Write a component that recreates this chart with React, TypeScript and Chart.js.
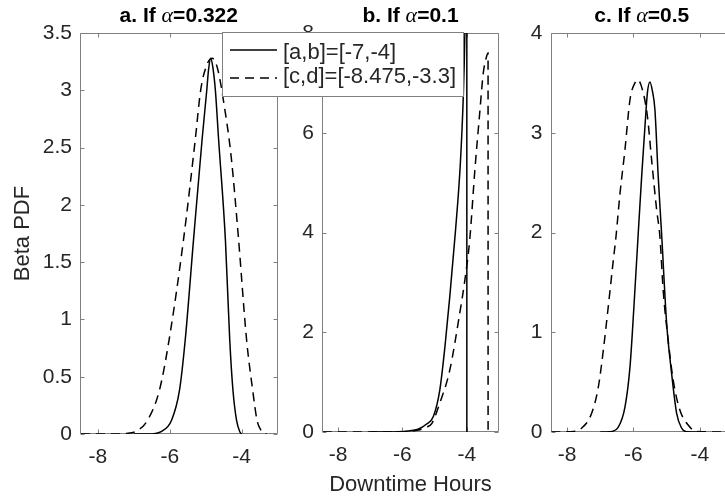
import React, { useEffect, useRef } from 'react';
import { Chart, registerables } from 'chart.js';

Chart.register(...registerables);

// ---------------- data ----------------
const X_MIN = -8.5;
const X_MAX = -3;
const xTickValues = [-8, -6, -4];

const yTicksA = [0, 0.5, 1, 1.5, 2, 2.5, 3, 3.5];
const yTicksB = [0, 2, 4, 6, 8];
const yTicksC = [0, 1, 2, 3, 4];

const legendLabels = ['[a,b]=[-7,-4]', '[c,d]=[-8.475,-3.3]'];
const titleA = ['a. If ', 'α', '=0.322'];
const titleB = ['b. If ', 'α', '=0.1'];
const titleC = ['c. If ', 'α', '=0.5'];
const xAxisTitle = 'Downtime Hours';
const yAxisTitle = 'Beta PDF';

// panel a
const aSolidX = [-7.0, -6.6, -6.4, -6.24, -5.95, -5.73, -5.57, -5.34, -5.1, -4.97, -4.92, -4.86, -4.8, -4.73, -4.64, -4.45, -4.33, -4.24, -4.14, -4.05, -4.0];
const aSolidY = [0, 0, 0.005, 0.02, 0.12, 0.38, 0.82, 1.69, 2.57, 3.0, 3.18, 3.28, 3.2, 3.0, 2.57, 1.69, 0.82, 0.38, 0.12, 0.02, 0];
const aDashX = [-8.475, -7.6, -7.2, -6.9, -6.62, -6.29, -6.02, -5.62, -5.29, -5.14, -4.97, -4.82, -4.67, -4.48, -4.29, -4.09, -3.86, -3.69, -3.57, -3.49, -3.4, -3.3];
const aDashY = [0, 0, 0.005, 0.03, 0.12, 0.38, 0.82, 1.69, 2.57, 3.0, 3.22, 3.28, 3.19, 2.86, 2.42, 1.72, 0.82, 0.38, 0.12, 0.05, 0.01, 0];

// panel b
const bSolidX = [-7.0, -6.3, -6.0, -5.5, -5.25, -5.04, -4.84, -4.68, -4.53, -4.35, -4.2, -4.11, -4.06, -4.02, -4.0, -3.999];
const bSolidY = [0, 0, 0.01, 0.06, 0.16, 0.31, 0.84, 1.71, 2.71, 4.05, 5.4, 6.72, 8.0, 10, 12, 0];
const bDashX = [-8.475, -6.5, -6.0, -5.5, -5.25, -5.09, -4.84, -4.53, -4.22, -4.06, -3.91, -3.75, -3.6, -3.49, -3.39, -3.34, -3.339];
const bDashY = [0, 0, 0.005, 0.04, 0.1, 0.17, 0.58, 1.24, 2.38, 3.05, 3.85, 5.25, 6.39, 7.19, 7.52, 7.6, 0];

// panel c
const cSolidX = [-7.0, -6.707, -6.457, -6.256, -6.105, -5.985, -5.856, -5.753, -5.654, -5.58, -5.504, -5.43, -5.353, -5.254, -5.152, -5.0, -4.851, -4.7, -4.55, -4.4, -4.0];
const cSolidY = [0, 0.003, 0.05, 0.25, 0.65, 1.26, 1.99, 2.56, 3.06, 3.4, 3.51, 3.42, 3.23, 2.56, 1.99, 1.09, 0.59, 0.19, 0.04, 0.003, 0];
const cDashX = [-8.475, -7.91, -7.558, -7.257, -7.059, -6.908, -6.758, -6.608, -6.526, -6.406, -6.256, -6.105, -5.955, -5.87, -5.774, -5.585, -5.453, -5.302, -5.203, -5.104, -4.953, -4.803, -4.601, -4.352, -4.1, -3.3];
const cDashY = [0, 0.003, 0.04, 0.19, 0.45, 0.82, 1.26, 1.72, 1.96, 2.39, 2.83, 3.33, 3.5, 3.53, 3.48, 3.18, 2.73, 2.23, 1.96, 1.42, 0.92, 0.52, 0.22, 0.07, 0.005, 0];

// ---------------- style ----------------
const SANS = '"Liberation Sans", Arial, Helvetica, sans-serif';
const AXIS_COLOR = '#808080';
const TEXT_COLOR = '#262626';
const DASH = [9, 6];
const TICK_LEN = 4;

const pts = (xs: number[], ys: number[]) => xs.map((x, i) => ({ x, y: ys[i] }));

const boxPlugin = {
  id: 'matBox',
  beforeDatasetsDraw(chart: any) {
    const { ctx, chartArea, scales } = chart;
    const l = Math.round(chartArea.left) + 0.5;
    const r = Math.round(chartArea.right) - 0.5;
    const t = Math.round(chartArea.top) + 0.5;
    const b = Math.round(chartArea.bottom) - 0.5;
    ctx.save();
    ctx.strokeStyle = AXIS_COLOR;
    ctx.lineWidth = 1;
    ctx.beginPath();
    ctx.rect(l, t, r - l, b - t);
    scales.x.ticks.forEach((tk: any) => {
      const px = Math.round(scales.x.getPixelForValue(tk.value)) + 0.5;
      ctx.moveTo(px, b);
      ctx.lineTo(px, b - TICK_LEN);
      ctx.moveTo(px, t);
      ctx.lineTo(px, t + TICK_LEN);
    });
    scales.y.ticks.forEach((tk: any) => {
      const py = Math.round(scales.y.getPixelForValue(tk.value)) + 0.5;
      ctx.moveTo(l, py);
      ctx.lineTo(l + TICK_LEN, py);
      ctx.moveTo(r, py);
      ctx.lineTo(r - TICK_LEN, py);
    });
    ctx.stroke();
    ctx.restore();
  },
};

const titlePlugin = {
  id: 'matTitle',
  afterDraw(chart: any, _args: any, opts: any) {
    if (!opts || !opts.parts) return;
    const { ctx, chartArea } = chart;
    const parts: string[] = opts.parts;
    const fonts = [`bold 21px ${SANS}`, `italic 22px "Liberation Serif", "Times New Roman", serif`, `bold 21px ${SANS}`];
    ctx.save();
    const widths = parts.map((p, i) => {
      ctx.font = fonts[i];
      return ctx.measureText(p).width;
    });
    const total = widths.reduce((s, w) => s + w, 0);
    let x = (chartArea.left + chartArea.right) / 2 - total / 2;
    ctx.fillStyle = '#000';
    ctx.textBaseline = 'alphabetic';
    ctx.textAlign = 'left';
    parts.forEach((p, i) => {
      ctx.font = fonts[i];
      ctx.fillText(p, x, opts.baseline);
      x += widths[i];
    });
    ctx.restore();
  },
};

const legendPlugin = {
  id: 'matLegend',
  afterDraw(chart: any, _args: any, opts: any) {
    if (!opts || !opts.show) return;
    const { ctx } = chart;
    const { x, y, w, h } = opts;
    ctx.save();
    ctx.fillStyle = '#ffffff';
    ctx.fillRect(x, y, w, h);
    ctx.strokeStyle = AXIS_COLOR;
    ctx.lineWidth = 1;
    ctx.strokeRect(x + 0.5, y + 0.5, w - 1, h - 1);
    chart.data.datasets.forEach((ds: any, i: number) => {
      const ly = y + opts.lineY[i];
      ctx.strokeStyle = ds.borderColor;
      ctx.lineWidth = ds.borderWidth;
      ctx.setLineDash(ds.borderDash || []);
      ctx.beginPath();
      ctx.moveTo(x + opts.lineX0, ly);
      ctx.lineTo(x + opts.lineX1, ly);
      ctx.stroke();
      ctx.setLineDash([]);
      ctx.fillStyle = TEXT_COLOR;
      ctx.font = `22px ${SANS}`;
      ctx.textBaseline = 'middle';
      ctx.textAlign = 'left';
      ctx.fillText(ds.label, x + opts.textX, y + opts.textY[i]);
    });
    ctx.restore();
  },
};

type PanelSpec = {
  left: number;
  width: number;
  z: number;
  yWidth: number;
  padRight: number;
  xHeight: number;
  yMax: number;
  yTicks: number[];
  title: string[];
  solid: { x: number; y: number }[];
  dash: { x: number; y: number }[];
  showYTitle: boolean;
  showXTitle: boolean;
  showLegend: boolean;
  legendX: number;
};

const H = 498;

function Panel({ spec }: { spec: PanelSpec }) {
  const ref = useRef<HTMLCanvasElement>(null);
  useEffect(() => {
    const tickFont = { family: SANS, size: 21, lineHeight: 1.2 };
    const chart = new Chart(ref.current as HTMLCanvasElement, {
      type: 'line',
      data: {
        datasets: [
          {
            label: legendLabels[0],
            data: spec.solid,
            borderColor: '#000000',
            borderWidth: 1.5,
            pointRadius: 0,
            fill: false,
            cubicInterpolationMode: 'monotone',
          },
          {
            label: legendLabels[1],
            data: spec.dash,
            borderColor: '#000000',
            borderWidth: 1.5,
            borderDash: DASH,
            pointRadius: 0,
            fill: false,
            cubicInterpolationMode: 'monotone',
          },
        ],
      },
      options: {
        animation: false,
        responsive: false,
        events: [],
        layout: { padding: { left: 0, right: spec.padRight, top: 33, bottom: 0 } },
        plugins: {
          legend: { display: false },
          title: { display: false },
          tooltip: { enabled: false },
          matTitle: { parts: spec.title, baseline: 21.5 },
          matLegend: {
            show: spec.showLegend,
            x: spec.legendX,
            y: 32,
            w: 242,
            h: 65,
            lineX0: 8,
            lineX1: 55,
            textX: 61,
            lineY: [18, 46],
            textY: [21, 45],
          },
        } as any,
        scales: {
          x: {
            type: 'linear',
            min: X_MIN,
            max: X_MAX,
            grid: { display: false, drawTicks: false },
            border: { display: false },
            afterBuildTicks: (scale: any) => {
              scale.ticks = xTickValues.map((v) => ({ value: v }));
            },
            afterFit: (scale: any) => {
              scale.height = spec.xHeight;
            },
            ticks: {
              font: tickFont,
              color: TEXT_COLOR,
              padding: 11,
              maxRotation: 0,
              autoSkip: false,
              callback: (v: any) => String(v),
            },
            title: {
              display: spec.showXTitle,
              text: xAxisTitle,
              color: TEXT_COLOR,
              font: { family: SANS, size: 22, lineHeight: 1.2 },
              padding: { top: 0, bottom: 0 },
            },
          },
          y: {
            type: 'linear',
            min: 0,
            max: spec.yMax,
            grid: { display: false, drawTicks: false },
            border: { display: false },
            afterBuildTicks: (scale: any) => {
              scale.ticks = spec.yTicks.map((v) => ({ value: v }));
            },
            afterFit: (scale: any) => {
              scale.width = spec.yWidth;
            },
            ticks: {
              font: tickFont,
              color: TEXT_COLOR,
              padding: 8,
              autoSkip: false,
              callback: (v: any) => String(v),
            },
            title: {
              display: spec.showYTitle,
              text: yAxisTitle,
              color: TEXT_COLOR,
              font: { family: SANS, size: 22, lineHeight: 1.2 },
              padding: { top: 10, bottom: 0 },
            },
          },
        },
      },
      plugins: [boxPlugin, titlePlugin, legendPlugin],
    } as any);
    return () => chart.destroy();
  }, [spec]);
  return (
    <canvas
      ref={ref}
      width={spec.width}
      height={H}
      style={{ position: 'absolute', left: spec.left, top: 0, zIndex: spec.z }}
    />
  );
}

const panels: PanelSpec[] = [
  {
    left: 0, width: 300, z: 1, yWidth: 80, padRight: 22.5, xHeight: 64,
    yMax: 3.5, yTicks: yTicksA, title: titleA,
    solid: pts(aSolidX, aSolidY), dash: pts(aDashX, aDashY),
    showYTitle: true, showXTitle: false, showLegend: false, legendX: 0,
  },
  {
    left: 200, width: 320, z: 2, yWidth: 122, padRight: 21, xHeight: 66,
    yMax: 8, yTicks: yTicksB, title: titleB,
    solid: pts(bSolidX, bSolidY), dash: pts(bDashX, bDashY),
    showYTitle: false, showXTitle: true, showLegend: true, legendX: 22,
  },
  {
    left: 520, width: 230, z: 1, yWidth: 30.5, padRight: 17, xHeight: 66,
    yMax: 4, yTicks: yTicksC, title: titleC,
    solid: pts(cSolidX, cSolidY), dash: pts(cDashX, cDashY),
    showYTitle: false, showXTitle: false, showLegend: false, legendX: 0,
  },
];

export default function App() {
  return (
    <div
      style={{
        position: 'fixed',
        left: 0,
        top: 0,
        width: 725,
        height: 498,
        overflow: 'hidden',
        background: '#ffffff',
      }}
    >
      {panels.map((p, i) => (
        <Panel key={i} spec={p} />
      ))}
    </div>
  );
}
